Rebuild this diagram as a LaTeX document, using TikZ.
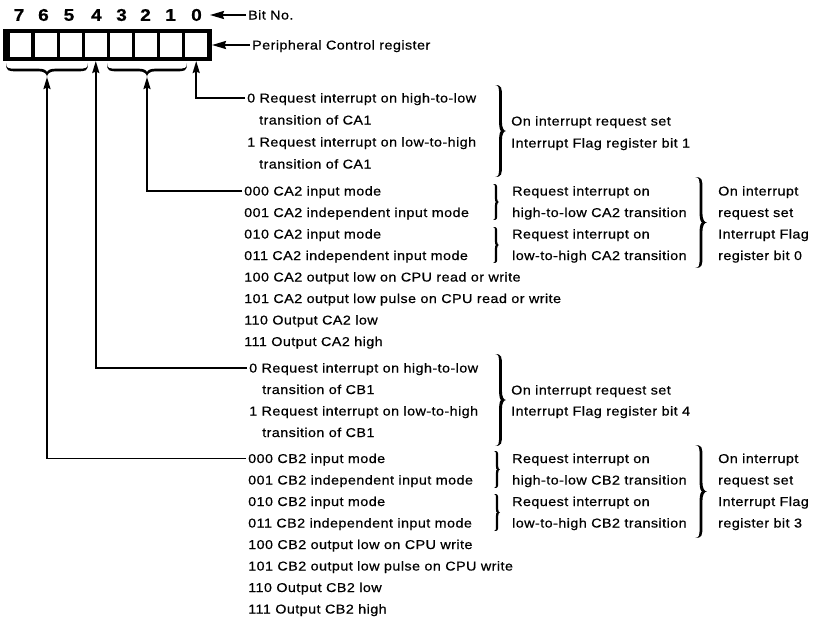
\documentclass[tikz,border=0pt]{standalone}
\usepackage{fontspec}
\setmainfont{Liberation Sans}[FakeStretch=1.12, LetterSpace=3.5, FakeBold=0.6]
\usetikzlibrary{arrows.meta, calc}
\begin{document}
\begin{tikzpicture}[x=1pt, y=-1pt,
  txt/.style={anchor=west, inner xsep=2pt, inner ysep=0pt, text height=9pt, text depth=0pt, font=\fontsize{12.8}{15}\selectfont},
  bitn/.style={inner sep=0pt, font=\fontsize{17}{17}\selectfont\bfseries},
  cell/.style={draw, line width=2.6pt, minimum width=24.5pt, minimum height=26.5pt, inner sep=0pt},
  conn/.style={line width=1.9pt, -{Stealth[length=12pt, width=7pt, inset=1.5pt]}},
  harr/.style={line width=2pt, -{Stealth[length=14pt, width=8pt, inset=1.5pt]}},
  pics/vbr/.style n args={3}{code={
    \pgfmathsetmacro\bH{#1}\pgfmathsetmacro\bA{#2}
    \pgfmathsetmacro\bR{#2/2+#3/2}\pgfmathsetmacro\bL{#2/2-#3/2}
    \pgfmathsetmacro\bN{max(#2-1.7*#3,#2/2)}
    \pgfmathsetmacro\bRm{(#2+#2/2+#3/2)/2}\pgfmathsetmacro\bLm{(\bN+\bL)/2}
    \pgfmathsetmacro\yA{0.03*#1}\pgfmathsetmacro\yB{0.13*#1}
    \pgfmathsetmacro\yC{0.40*#1}\pgfmathsetmacro\yD{0.47*#1}
    \pgfmathsetmacro\yM{0.5*#1}\pgfmathsetmacro\yE{0.53*#1}
    \pgfmathsetmacro\yF{0.60*#1}\pgfmathsetmacro\yG{0.87*#1}
    \pgfmathsetmacro\yH{0.97*#1}
    \fill (0,0) .. controls (\bR,0) and (\bR,\yA) .. (\bR,\yB)
      -- (\bR,\yC) .. controls (\bR,\yD) and (\bRm,\yM) .. (\bA,\yM)
      .. controls (\bRm,\yM) and (\bR,\yE) .. (\bR,\yF)
      -- (\bR,\yG) .. controls (\bR,\yH) and (\bR,\bH) .. (0,\bH)
      .. controls (\bL,\bH) and (\bL,\yH) .. (\bL,\yG)
      -- (\bL,\yF) .. controls (\bL,\yE) and (\bLm,\yM) .. (\bN,\yM)
      .. controls (\bLm,\yM) and (\bL,\yD) .. (\bL,\yC)
      -- (\bL,\yB) .. controls (\bL,\yA) and (\bL,0) .. (0,0) -- cycle;
  }},
]
\useasboundingbox (0,0) rectangle (815,619);

% register
\node[draw, line width=3.5pt, minimum width=205.5pt, minimum height=28.5pt, inner sep=0pt] (reg) at (107.5,45) {};
\node[cell] (c7) at (20.5,45) {};
\node[cell] (c6) at (45.6,45) {};
\node[cell] (c5) at (70.7,45) {};
\node[cell] (c4) at (95.8,45) {};
\node[cell] (c3) at (120.9,45) {};
\node[cell] (c2) at (146,45) {};
\node[cell] (c1) at (171.1,45) {};
\node[cell] (c0) at (196.2,45) {};

\node[bitn] (n7) at (19,15) {7};
\node[bitn] (n6) at (43.5,15) {6};
\node[bitn] (n5) at (69,15) {5};
\node[bitn] (n4) at (96.5,15) {4};
\node[bitn] (n3) at (121.5,15) {3};
\node[bitn] (n2) at (145.5,15) {2};
\node[bitn] (n1) at (170.5,15) {1};
\node[bitn] (n0) at (196.5,15) {0};

\node[txt] (bitno) at (246,15) {Bit No.};
\draw[harr, shorten >=8pt] (bitno.west) -- (n0.east);
\node[txt] (per) at (250,45) {Peripheral Control register};
\draw[harr] (per.west) -- (reg.east);

% braces under register
\pic[rotate=-90] at (88,63) {vbr={82}{14}{2.6}};
\coordinate (br75) at (47,77);
\pic[rotate=-90] at (187,63) {vbr={80}{14}{2.6}};
\coordinate (br31) at (147,77);

% block A
\node[txt] (a1) at (245,98) {0 Request interrupt on high-to-low};
\node[txt] (a2) at (257,120) {transition of CA1};
\node[txt] (a3) at (245,142) {1 Request interrupt on low-to-high};
\node[txt] (a4) at (257,164) {transition of CA1};
\pic at (495,85) {vbr={92}{11}{2.8}};
\node[txt] (al1) at (509,121) {On interrupt request set};
\node[txt] (al2) at (509,143) {Interrupt Flag register bit 1};

% block B
\node[txt] (b1) at (242,191) {000 CA2 input mode};
\node[txt] (b2) at (242,212.5) {001 CA2 independent input mode};
\node[txt] (b3) at (242,234) {010 CA2 input mode};
\node[txt] (b4) at (242,255.5) {011 CA2 independent input mode};
\node[txt] (b5) at (242,277) {100 CA2 output low on CPU read or write};
\node[txt] (b6) at (242,298.5) {101 CA2 output low pulse on CPU read or write};
\node[txt] (b7) at (242,320) {110 Output CA2 low};
\node[txt] (b8) at (242,341.5) {111 Output CA2 high};
\pic at (493,184) {vbr={36}{6}{2.2}};
\pic at (493,227) {vbr={36}{6}{2.2}};
\node[txt] (bl1) at (510,191) {Request interrupt on};
\node[txt] (bl2) at (510,212.5) {high-to-low CA2 transition};
\node[txt] (bl3) at (510,234) {Request interrupt on};
\node[txt] (bl4) at (510,255.5) {low-to-high CA2 transition};
\pic at (695,177) {vbr={91}{12}{2.8}};
\node[txt] (bm1) at (716,191) {On interrupt};
\node[txt] (bm2) at (716,212.5) {request set};
\node[txt] (bm3) at (716,234) {Interrupt Flag};
\node[txt] (bm4) at (716,255.5) {register bit 0};

% block C
\node[txt] (cc1) at (247,368) {0 Request interrupt on high-to-low};
\node[txt] (cc2) at (260,389.5) {transition of CB1};
\node[txt] (cc3) at (247,411) {1 Request interrupt on low-to-high};
\node[txt] (cc4) at (260,432.5) {transition of CB1};
\pic at (495,354) {vbr={92}{11}{2.8}};
\node[txt] (cl1) at (509,390) {On interrupt request set};
\node[txt] (cl2) at (509,411) {Interrupt Flag register bit 4};

% block D
\node[txt] (d1) at (246,458.5) {000 CB2 input mode};
\node[txt] (d2) at (246,480) {001 CB2 independent input mode};
\node[txt] (d3) at (246,501.5) {010 CB2 input mode};
\node[txt] (d4) at (246,523) {011 CB2 independent input mode};
\node[txt] (d5) at (246,544.5) {100 CB2 output low on CPU write};
\node[txt] (d6) at (246,566) {101 CB2 output low pulse on CPU write};
\node[txt] (d7) at (246,587.5) {110 Output CB2 low};
\node[txt] (d8) at (246,609) {111 Output CB2 high};
\pic at (494,451) {vbr={37}{6}{2.2}};
\pic at (494,494) {vbr={37}{6}{2.2}};
\node[txt] (dl1) at (510,458.5) {Request interrupt on};
\node[txt] (dl2) at (510,480) {high-to-low CB2 transition};
\node[txt] (dl3) at (510,501.5) {Request interrupt on};
\node[txt] (dl4) at (510,523) {low-to-high CB2 transition};
\pic at (695,445) {vbr={93}{12}{2.8}};
\node[txt] (dm1) at (716,458.5) {On interrupt};
\node[txt] (dm2) at (716,480) {request set};
\node[txt] (dm3) at (716,501.5) {Interrupt Flag};
\node[txt] (dm4) at (716,523) {register bit 3};

% connectors
\draw[conn] (a1.west) -| (c0.south |- reg.south);
\draw[conn] (b1.west) -| (br31);
\draw[conn] (cc1.west) -| (c4.south |- reg.south);
\draw[conn] (d1.west) -| (br75);
\end{tikzpicture}
\end{document}
